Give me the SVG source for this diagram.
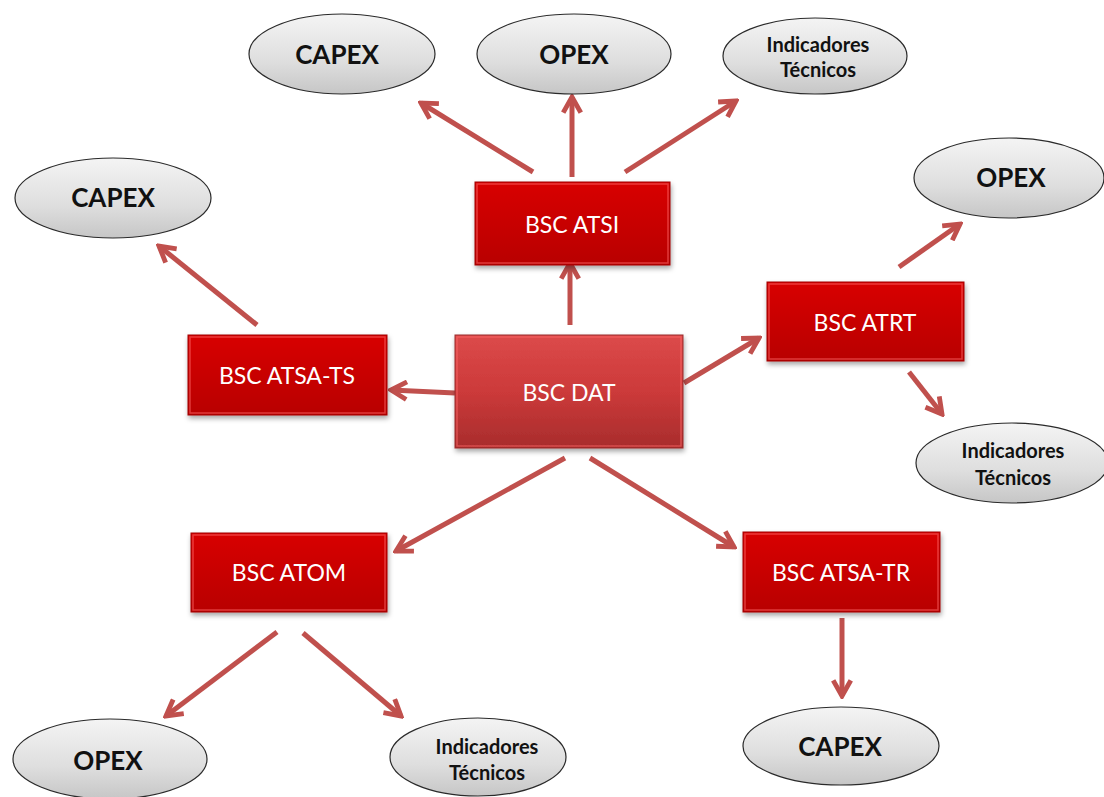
<svg xmlns="http://www.w3.org/2000/svg" width="1104" height="797" viewBox="0 0 1104 797">
  <style>
    .box { fill: url(#redFill); stroke: #a00000; stroke-width: 1; filter: url(#shadow); }
    .box-main { fill: url(#mainFill); stroke: #9a2a2a; stroke-width: 1; filter: url(#shadow); }
    .bevel { fill: none; stroke: #ff6a6a; stroke-opacity: 0.55; stroke-width: 1.5; }
    .oval { fill: url(#grayFill); stroke: #2a2a2a; stroke-width: 1.2; }
    .box-label { font-family: Lato, "Open Sans", "Liberation Sans", sans-serif; font-size: 23px; fill: #ffffff; text-anchor: middle; dominant-baseline: central; }
    .oval-label { font-family: Lato, "Open Sans", "Liberation Sans", sans-serif; font-weight: bold; font-size: 26px; fill: #111111; text-anchor: middle; dominant-baseline: central; }
    .oval-small { font-family: Lato, "Open Sans", "Liberation Sans", sans-serif; font-weight: bold; font-size: 20px; fill: #111111; text-anchor: middle; dominant-baseline: central; }
    .link { stroke: #c0504d; stroke-width: 5; fill: none; marker-end: url(#chevron); }
  </style>
  <defs>
    <linearGradient id="redFill" x1="0" y1="0" x2="0" y2="1">
      <stop offset="0" stop-color="#d80000"/>
      <stop offset="1" stop-color="#b80000"/>
    </linearGradient>
    <linearGradient id="mainFill" x1="0" y1="0" x2="0" y2="1">
      <stop offset="0" stop-color="#dc4a4a"/>
      <stop offset="0.5" stop-color="#cc3a3a"/>
      <stop offset="1" stop-color="#a82c2c"/>
    </linearGradient>
    <linearGradient id="grayFill" x1="0" y1="0" x2="0" y2="1">
      <stop offset="0" stop-color="#f4f4f4"/>
      <stop offset="0.6" stop-color="#dedede"/>
      <stop offset="1" stop-color="#c6c6c6"/>
    </linearGradient>
    <filter id="shadow" x="-10%" y="-10%" width="125%" height="135%">
      <feDropShadow dx="1" dy="3" stdDeviation="2.5" flood-color="#000000" flood-opacity="0.35"/>
    </filter>
    <marker id="chevron" viewBox="0 0 10 10" refX="8.6" refY="5" markerWidth="4.4" markerHeight="4.4" orient="auto" markerUnits="strokeWidth">
      <path d="M1.5,1 L8.6,5 L1.5,9" fill="none" stroke="#c0504d" stroke-width="2.2" stroke-linejoin="miter" stroke-linecap="butt"/>
    </marker>
  </defs>

  <!-- connectors -->
  <g id="connectors">
    <line class="link" x1="533" y1="172" x2="421" y2="103"/>
    <line class="link" x1="572" y1="177" x2="572" y2="97"/>
    <line class="link" x1="625" y1="172" x2="736" y2="101"/>
    <line class="link" x1="570" y1="325" x2="570" y2="263"/>
    <line class="link" x1="455" y1="393" x2="391" y2="390"/>
    <line class="link" x1="684" y1="383" x2="759" y2="338"/>
    <line class="link" x1="565" y1="458" x2="396" y2="551"/>
    <line class="link" x1="590" y1="458" x2="734" y2="547"/>
    <line class="link" x1="257" y1="325" x2="159" y2="246"/>
    <line class="link" x1="899" y1="267" x2="960" y2="224"/>
    <line class="link" x1="909" y1="372" x2="942" y2="414"/>
    <line class="link" x1="277" y1="632" x2="166" y2="716"/>
    <line class="link" x1="303" y1="633" x2="401" y2="716"/>
    <line class="link" x1="842" y1="618" x2="842" y2="696"/>
  </g>

  <!-- central balanced scorecard -->
  <g id="bsc-dat">
    <rect class="box-main" x="455" y="335" width="228" height="113"/>
    <rect class="bevel" x="457" y="337" width="224" height="109"/>
    <text class="box-label" x="569" y="392">BSC DAT</text>
  </g>

  <!-- unit scorecards -->
  <g id="bsc-atsi">
    <rect class="box" x="475" y="182" width="195" height="83"/>
    <rect class="bevel" x="477" y="184" width="191" height="79"/>
    <text class="box-label" x="572" y="224">BSC ATSI</text>
  </g>
  <g id="bsc-atrt">
    <rect class="box" x="767" y="282" width="197" height="79"/>
    <rect class="bevel" x="769" y="284" width="193" height="75"/>
    <text class="box-label" x="865" y="322">BSC ATRT</text>
  </g>
  <g id="bsc-atsa-ts">
    <rect class="box" x="188" y="335" width="199" height="80"/>
    <rect class="bevel" x="190" y="337" width="195" height="76"/>
    <text class="box-label" x="287" y="375">BSC ATSA-TS</text>
  </g>
  <g id="bsc-atom">
    <rect class="box" x="191" y="533" width="196" height="79"/>
    <rect class="bevel" x="193" y="535" width="192" height="75"/>
    <text class="box-label" x="289" y="572">BSC ATOM</text>
  </g>
  <g id="bsc-atsa-tr">
    <rect class="box" x="743" y="532" width="197" height="80"/>
    <rect class="bevel" x="745" y="534" width="193" height="76"/>
    <text class="box-label" x="841" y="572">BSC ATSA-TR</text>
  </g>

  <!-- indicator ovals -->
  <g id="atsi-capex">
    <ellipse class="oval" cx="342" cy="54" rx="93" ry="40"/>
    <text class="oval-label" x="337" y="54">CAPEX</text>
  </g>
  <g id="atsi-opex">
    <ellipse class="oval" cx="574" cy="54" rx="97" ry="40"/>
    <text class="oval-label" x="574" y="54">OPEX</text>
  </g>
  <g id="atsi-indicadores">
    <ellipse class="oval" cx="815" cy="56" rx="92" ry="38"/>
    <text class="oval-small" x="818" y="44">Indicadores</text>
    <text class="oval-small" x="818" y="69">Técnicos</text>
  </g>
  <g id="atsa-ts-capex">
    <ellipse class="oval" cx="113" cy="198" rx="98" ry="40"/>
    <text class="oval-label" x="113" y="197">CAPEX</text>
  </g>
  <g id="atrt-opex">
    <ellipse class="oval" cx="1009" cy="178" rx="95" ry="40"/>
    <text class="oval-label" x="1011" y="177">OPEX</text>
  </g>
  <g id="atrt-indicadores">
    <ellipse class="oval" cx="1012" cy="463" rx="96" ry="40"/>
    <text class="oval-small" x="1013" y="450">Indicadores</text>
    <text class="oval-small" x="1013" y="477">Técnicos</text>
  </g>
  <g id="atom-opex">
    <ellipse class="oval" cx="110" cy="759" rx="97" ry="40"/>
    <text class="oval-label" x="108" y="760">OPEX</text>
  </g>
  <g id="atom-indicadores">
    <ellipse class="oval" cx="478" cy="757" rx="88" ry="39"/>
    <text class="oval-small" x="487" y="746">Indicadores</text>
    <text class="oval-small" x="487" y="772">Técnicos</text>
  </g>
  <g id="atsa-tr-capex">
    <ellipse class="oval" cx="841" cy="746" rx="98" ry="39"/>
    <text class="oval-label" x="840" y="746">CAPEX</text>
  </g>
</svg>
